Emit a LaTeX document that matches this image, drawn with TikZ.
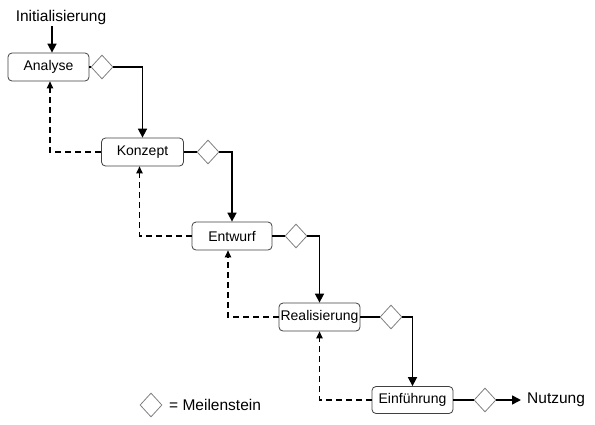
\documentclass[tikz,border=0pt]{standalone}
\usepackage{fontspec}
\setmainfont{Liberation Sans}
\usetikzlibrary{shapes.geometric,arrows.meta,calc}
\tikzset{
  phase/.style={draw=black!75, line width=0.8pt, rounded corners=4pt, minimum width=81pt, minimum height=28pt, inner sep=0pt, font=\fontsize{14}{16}\selectfont},
  mile/.style={diamond, draw=black!50, line width=0.8pt, minimum width=22pt, minimum height=24pt, inner sep=0pt},
  lbl/.style={inner sep=0pt, font=\fontsize{15.5}{18}\selectfont},
  flow/.style={line width=1.6pt, -{Triangle[length=9pt,width=9pt]}},
  link/.style={line width=1.6pt},
  back/.style={line width=1.2pt, dash pattern=on 6pt off 4pt, -{Triangle[length=7pt,width=6.5pt]}}
}
\begin{document}
\begin{tikzpicture}[x=1pt,y=-1pt]
\useasboundingbox (0,0) rectangle (595,424);
\node[lbl] (init) at (61,17) {Initialisierung};
\node[phase] (A) at (48.5,67) {Analyse};
\node[mile] (D1) at (102,67) {};
\node[phase, minimum width=82pt] (K) at (142.5,152) {Konzept};
\node[mile] (D2) at (208,152) {};
\node[phase, minimum width=80pt] (E) at (232,236) {Entwurf};
\node[mile] (D3) at (296,236) {};
\node[phase] (R) at (319.5,317) {Realisierung};
\node[mile] (D4) at (391,317) {};
\node[phase, minimum height=27pt] (Ei) at (412.5,400) {Einführung};
\node[mile] (D5) at (485,400) {};
\node[lbl, anchor=west] (nutz) at (527,400) {Nutzung};
\node[mile] (LD) at (151,405) {};
\node[lbl, anchor=west] (leg) at (169,405) {= Meilenstein};

\draw[flow] ($(init.south)+(-9,2)$) -- ($(A.north)+(3.5,0)$);
\draw[link] (A.east) -- (D1.west);
\draw[flow] (D1.east) -| (K.north);
\draw[link] (K.east) -- (D2.west);
\draw[flow] (D2.east) -| (E.north);
\draw[link] (E.east) -- (D3.west);
\draw[flow] (D3.east) -| (R.north);
\draw[link] (R.east) -- (D4.west);
\draw[flow] (D4.east) -| (Ei.north);
\draw[link] (Ei.east) -- (D5.west);
\draw[flow] (D5.east) -- ($(nutz.west)+(-6,0)$);

\draw[back] (K.west) -| ($(A.south)+(1.5,0)$);
\draw[back] (E.west) -| ($(K.south)+(-3,0)$);
\draw[back] (R.west) -| ($(E.south)+(-4,0)$);
\draw[back] (Ei.west) -| (R.south);
\end{tikzpicture}
\end{document}
